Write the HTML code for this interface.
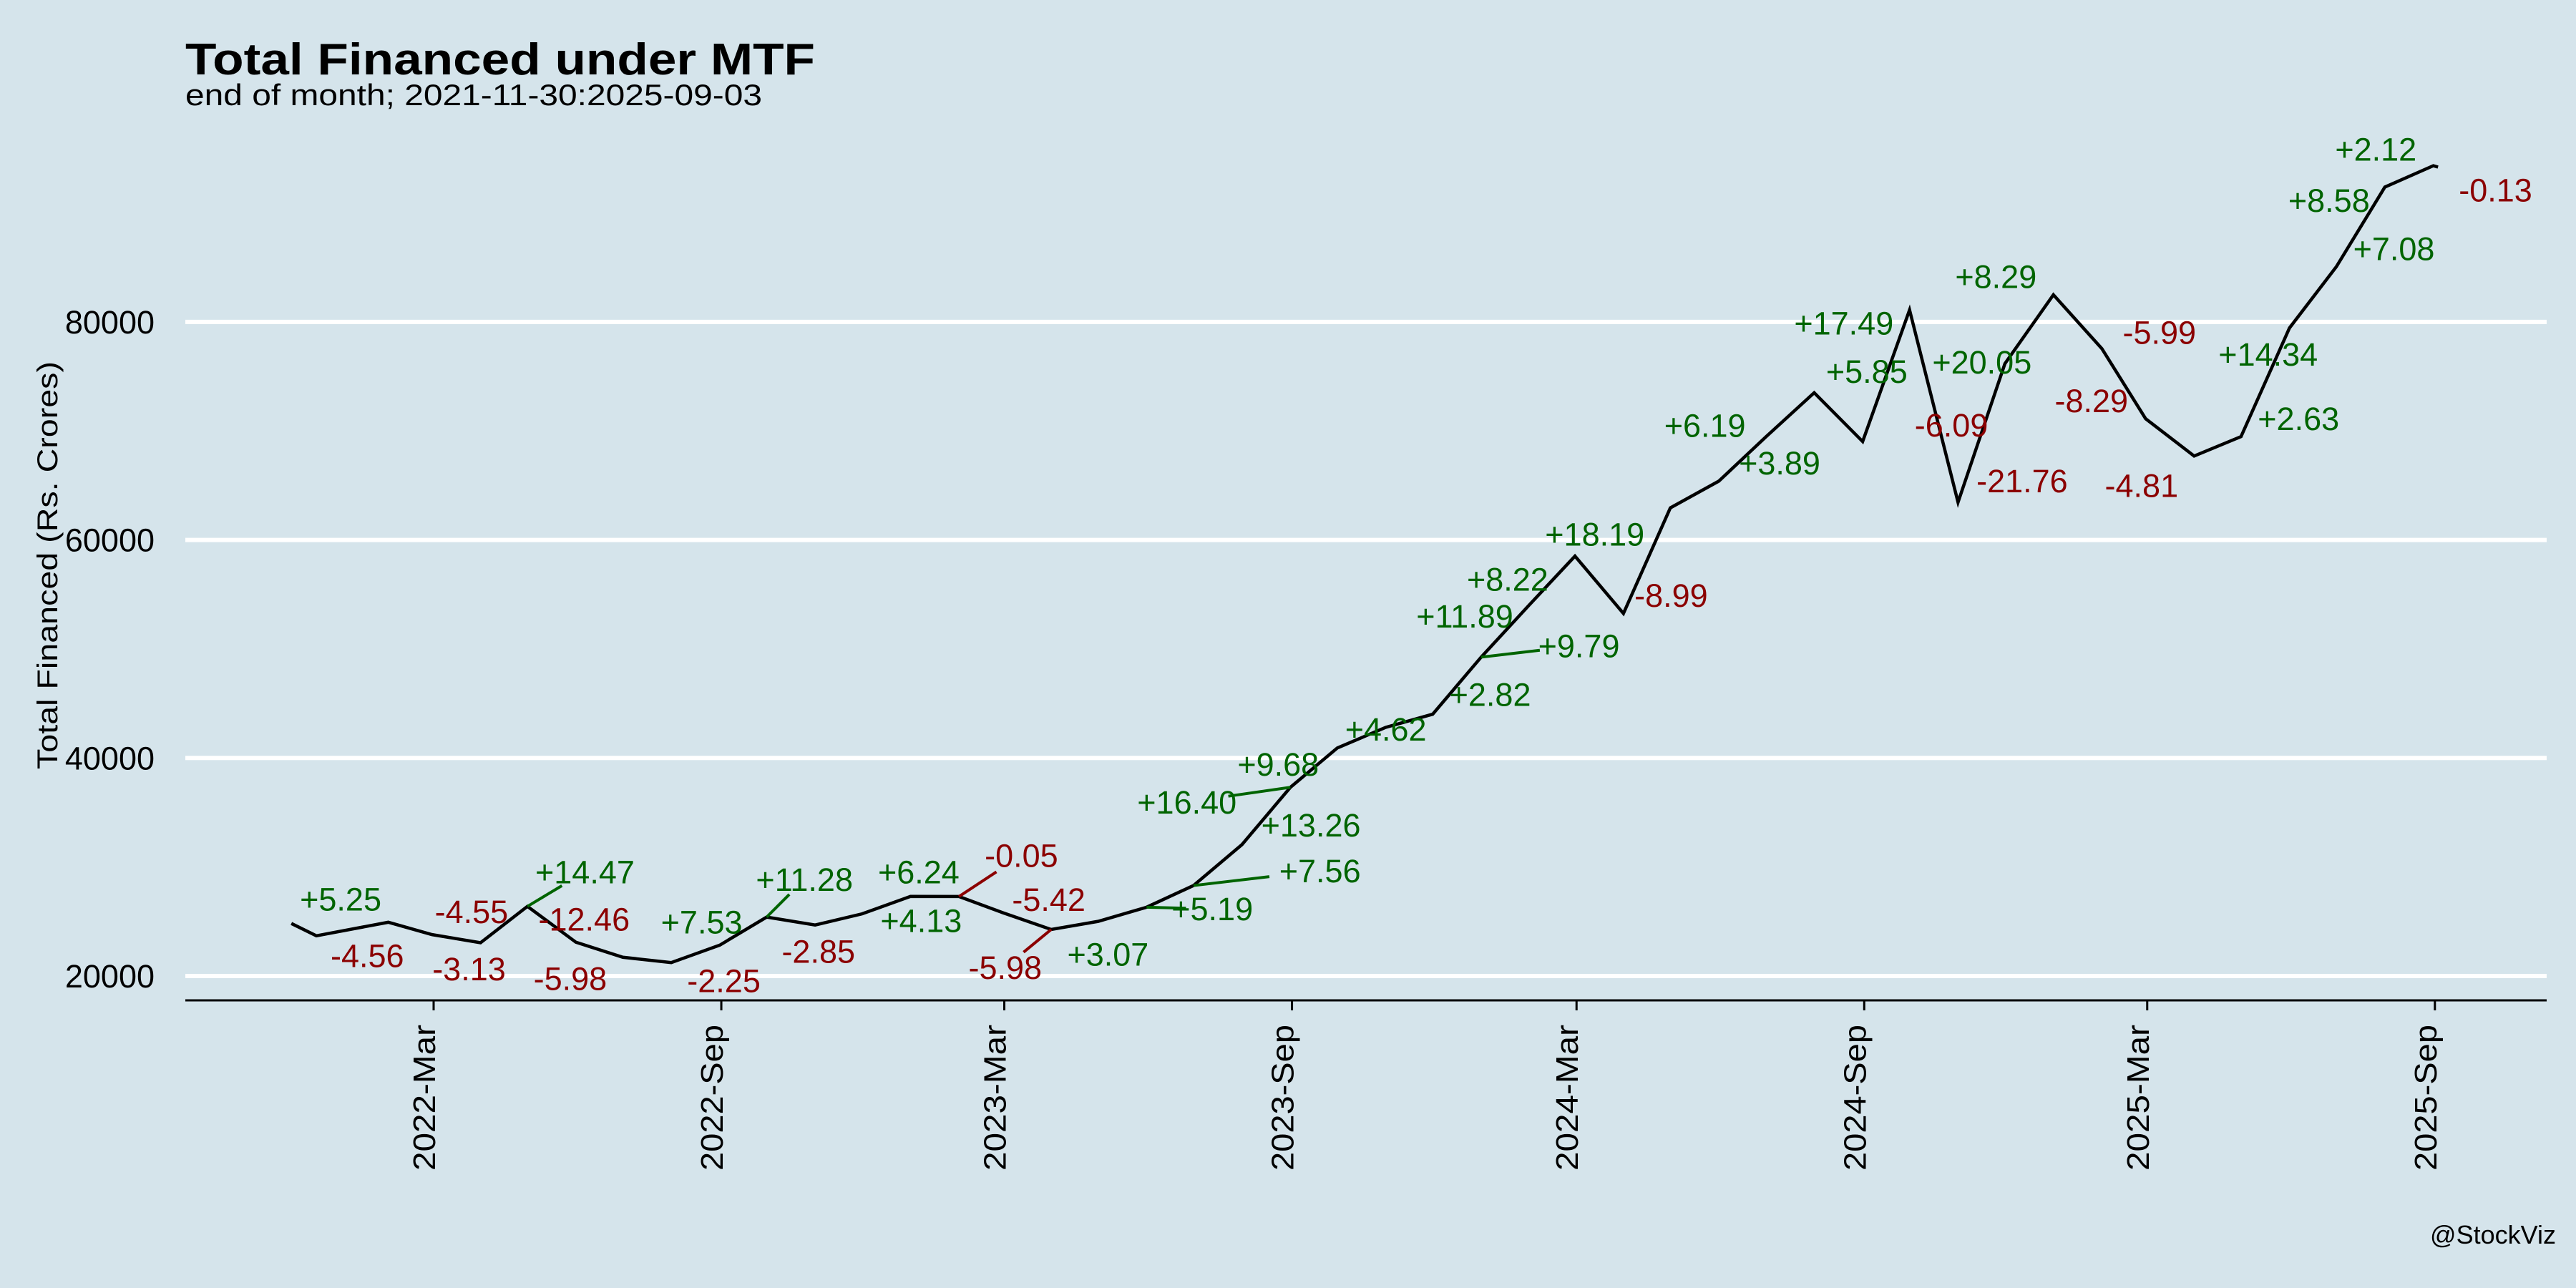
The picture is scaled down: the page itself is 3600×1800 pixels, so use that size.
<!DOCTYPE html>
<html><head><meta charset="utf-8"><style>
html,body{margin:0;padding:0;background:#d5e4eb;}
svg{display:block;font-family:"Liberation Sans",sans-serif;}
</style></head><body>
<svg id="chart" width="3600" height="1800" viewBox="0 0 3600 1800" xmlns="http://www.w3.org/2000/svg">
<rect x="0" y="0" width="3600" height="1800" fill="#d5e4eb"/>
<text x="259" y="104" font-size="62" font-weight="bold" textLength="880" lengthAdjust="spacingAndGlyphs">Total Financed under MTF</text>
<text x="259" y="147" font-size="42" textLength="806" lengthAdjust="spacingAndGlyphs">end of month; 2021-11-30:2025-09-03</text>
<text transform="translate(80,790) rotate(-90)" text-anchor="middle" font-size="40" textLength="570" lengthAdjust="spacingAndGlyphs">Total Financed (Rs. Crores)</text>
<text x="3572" y="1738" text-anchor="end" font-size="36">@StockViz</text>
<g id="grid"></g><g id="axes"></g><g id="series"></g><g id="labels"></g>
</svg>
<script>
const dates = ["2021-11-30","2021-12-16","2022-01-31","2022-02-28","2022-03-31","2022-04-30","2022-05-31","2022-06-30","2022-07-31","2022-08-31","2022-09-30","2022-10-31","2022-11-30","2022-12-31","2023-01-31","2023-02-28","2023-03-31","2023-04-30","2023-05-31","2023-06-30","2023-07-31","2023-08-31","2023-09-30","2023-10-31","2023-11-30","2023-12-31","2024-01-31","2024-02-29","2024-03-31","2024-04-30","2024-05-31","2024-06-30","2024-07-31","2024-08-31","2024-09-30","2024-10-31","2024-11-30","2024-12-31","2025-01-31","2025-02-28","2025-03-31","2025-04-30","2025-05-31","2025-06-30","2025-07-31","2025-08-31","2025-09-03"];
const values = [24820,23688,24932,23798,23053,26389,23101,21720,21232,22831,25406,24682,25701,27305,27291,25812,24268,25013,26311,28300,32053,37310,40921,42811,44018,49252,54074,58519,53258,62946,65395,69443,73505,69029,81102,63454,76177,82492,77551,71122,67701,69482,79446,85071,92370,94328,94205];
const pctLabels = [null,"-4.56","+5.25","-4.55","-3.13","+14.47","-12.46","-5.98","-2.25","+7.53","+11.28","-2.85","+4.13","+6.24","-0.05","-5.42","-5.98","+3.07","+5.19","+7.56","+13.26","+16.40","+9.68","+4.62","+2.82","+11.89","+9.79","+8.22","-8.99","+18.19","+3.89","+6.19","+5.85","-6.09","+17.49","-21.76","+20.05","+8.29","-5.99","-8.29","-4.81","+2.63","+14.34","+7.08","+8.58","+2.12","-0.13"];
const yTicks = [20000,40000,60000,80000];
const xTickDates = ["2022-03-01","2022-09-01","2023-03-01","2023-09-01","2024-03-01","2024-09-01","2025-03-01","2025-09-01"];
const xTickLabels = ["2022-Mar","2022-Sep","2023-Mar","2023-Sep","2024-Mar","2024-Sep","2025-Mar","2025-Sep"];
// label layout offsets (screen px, not data)
const labelOff = [null,[31,12],[-29,-14],[24,-14],[-7,16],[35,-21],[5,-14],[-32,13],[32,11],[-11,-14],[23,-23],[2,16],[36,4],[5,-15],[38,-25],[28,-8],[-28,23],[6,20],[40,1],[77,-9],[42,-12],[-63,9],[-36,10],[0,1],[35,-12],[-10,-25],[30,25],[-41,14],[29,-11],[-46,16],[37,-11],[-37,-7],[32,-13],[54,-10],[-40,8],[39,-13],[-14,-1],[-35,-11],[35,-10],[-33,-11],[-32,18],[35,-11],[-13,16],[35,-11],[-34,8],[-35,-10],[35,14]];
const leaders = [5,10,14,16,18,19,21,26];

const NS="http://www.w3.org/2000/svg";
const S=2.296;
const t0=Date.UTC(2022,2,1);
function xScale(d){const p=d.split("-").map(Number);const t=Date.UTC(p[0],p[1]-1,p[2]);return 606+(t-t0)/86400000*2.185;}
function yScale(v){return 1364-(v-20000)/20000*304.7;}
function mk(tag,attrs,parent){const e=document.createElementNS(NS,tag);for(const k in attrs)e.setAttribute(k,attrs[k]);parent.appendChild(e);return e;}
const grid=document.getElementById('grid'),axes=document.getElementById('axes'),series=document.getElementById('series'),labels=document.getElementById('labels');

yTicks.forEach(v=>{
  const y=yScale(v);
  const l=mk('line',{x1:259,x2:3559,y1:y,y2:y,stroke:'#ffffff','stroke-width':6},grid);
  
  
  const t=mk('text',{x:216,y:y+16,'text-anchor':'end','font-size':45},axes);
  
  
  t.textContent=String(v);
});
const ax=mk('line',{x1:259,x2:3559,y1:1398,y2:1398,stroke:'#000','stroke-width':3},axes);


xTickDates.forEach((d,i)=>{
  const x=xScale(d);
  const tk=mk('line',{x1:x,x2:x,y1:1398,y2:1412,stroke:'#000','stroke-width':3},axes);
  
  
  const t=mk('text',{transform:`translate(${x+2},1432) rotate(-90)`,'text-anchor':'end','font-size':44,textLength:204,lengthAdjust:'spacingAndGlyphs'},axes);
  
  
  t.textContent=xTickLabels[i];
});
const pts=dates.map((d,i)=>[xScale(d),yScale(values[i])]);
const line=mk('polyline',{points:pts.map(p=>p.join(',')).join(' '),fill:'none',stroke:'#000','stroke-width':4.5,'stroke-linejoin':'miter'},series);



pctLabels.forEach((s,i)=>{
  if(!s)return;
  const col=s[0]==='-'?'#8b0000':'#006400';
  const [dx,dy]=labelOff[i];
  const lx=pts[i][0]+dx*S, ly=pts[i][1]+dy*S;
  if(leaders.indexOf(i)>=0){
    const src=(i===26)?pts[25]:pts[i];
    const ex=src[0]+(lx-src[0])*0.6, ey=src[1]+(ly-src[1])*0.6;
    const ld=mk('line',{x1:src[0],y1:src[1],x2:ex,y2:ey,stroke:col,'stroke-width':4},labels);
    
    
  }
  const t=mk('text',{x:lx,y:ly+16,'text-anchor':'middle','font-size':45,fill:col},labels);
  
  
  t.textContent=s;
});
</script>
</body></html>
